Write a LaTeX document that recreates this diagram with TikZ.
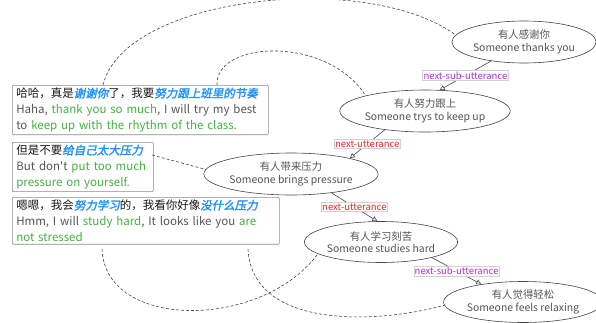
\documentclass[tikz,border=0pt]{standalone}
\usepackage{fontspec}
\setmainfont[Ligatures=TeXOff]{Noto Sans CJK SC}
\newfontfamily\hlfont[FakeSlant=0.2,FakeBold=2]{Noto Sans CJK SC}
\usetikzlibrary{shapes.geometric,arrows.meta}
\definecolor{txtgray}{HTML}{555555}
\definecolor{linegray}{HTML}{444444}
\definecolor{boxgray}{HTML}{8A8A8A}
\definecolor{hlblue}{HTML}{1E90FF}
\definecolor{hlgreen}{HTML}{45B045}
\definecolor{subpurple}{HTML}{B030D0}
\definecolor{nextred}{HTML}{E02828}
\newcommand{\hlb}[1]{{\hlfont\color{hlblue}#1}}
\newcommand{\hlg}[1]{{\color{hlgreen}#1}}
\newcommand{\en}[1]{{\color{txtgray}#1}}
\tikzset{
  txtbox/.style={draw=boxgray, line width=0.6pt, rounded corners=1pt, fill=white,
    anchor=north west, align=left, inner xsep=4pt, inner ysep=2.5pt,
    font=\fontsize{11.5}{16}\selectfont, text=black!90},
  ell/.style={ellipse, draw=linegray, line width=0.6pt, fill=white, inner sep=0pt,
    minimum width=143pt, minimum height=42pt, align=center, text=txtgray,
    font=\fontsize{10.4}{12.5}\selectfont},
  rel/.style={draw=linegray, line width=0.6pt, -{Triangle[open,length=5pt,width=5pt]}},
  lbl/.style={fill=white, draw=black!18, line width=0.4pt, inner sep=1pt,
    font=\fontsize{9.5}{10}\selectfont},
  dsh/.style={draw=linegray, line width=0.6pt, dash pattern=on 3pt off 2pt}
}
\begin{document}
\begin{tikzpicture}[x=1pt,y=-1pt]
\useasboundingbox (0,0) rectangle (596,322);

% text boxes
\node[txtbox, text width=248pt] (b1) at (12,85)
  {哈哈，真是\hlb{谢谢你}了，我要\hlb{努力跟上班里的节奏}\\
   \en{Haha, \hlg{thank you so much}, I will try my best}\\
   \en{to \hlg{keep up with the rhythm of the class.}}};
\node[txtbox, text width=133pt] (b2) at (12,142)
  {但是不要\hlb{给自己太大压力}\\
   \en{But don't \hlg{put too much}}\\
   \hlg{pressure on yourself.}};
\node[txtbox, text width=259pt] (b3) at (12,197)
  {嗯嗯，我会\hlb{努力学习}的，我看你好像\hlb{没什么压力}\\
   \en{Hmm, I will \hlg{study hard}, It looks like you \hlg{are}}\\
   \hlg{not stressed}};

% anchor coordinates on boxes
\coordinate (b1a) at (103,85);
\coordinate (b1b) at (217,85);
\coordinate (b2a) at (152,155);
\coordinate (b3a) at (102,249);
\coordinate (b3b) at (248,249);

% dashed links (drawn before ellipses)
\coordinate (e1p) at (457,36);
\coordinate (e2p) at (367,98);
\coordinate (e3p) at (219,173);
\coordinate (e4p) at (317,255);
\coordinate (e5p) at (452,303);
\draw[dsh] (b1a) .. controls (125,-5) and (370,-30) .. (e1p);
\draw[dsh] (b1b) .. controls (215,40) and (330,35) .. (e2p);
\draw[dsh] (b2a) -- (e3p);
\draw[dsh] (b3a) .. controls (105,330) and (260,330) .. (e4p);
\draw[dsh] (b3b) .. controls (252,330) and (380,325) .. (e5p);

% ellipses
\node[ell] (e1) at (524,42) {有人感谢你\\Someone thanks you};
\node[ell] (e2) at (425,111) {有人努力跟上\\Someone trys to keep up};
\node[ell, minimum width=144pt] (e3) at (291,174) {有人带来压力\\Someone brings pressure};
\node[ell, minimum width=145pt, minimum height=41pt] (e4) at (381,242) {有人学习刻苦\\Someone studies hard};
\node[ell, minimum height=41pt] (e5) at (523,302) {有人觉得轻松\\Someone feels relaxing};

% relations
\draw[rel] (e1.210) -- node[lbl, text=subpurple] {next-sub-utterance} (e2.55);
\draw[rel] (e2.205) -- node[lbl, text=nextred] {next-utterance} (e3.15);
\draw[rel] (e3.335) -- node[lbl, text=nextred] {next-utterance} (e4.100);
\draw[rel] (e4.343) -- node[lbl, text=subpurple] {next-sub-utterance} (e5.157);
\end{tikzpicture}
\end{document}
